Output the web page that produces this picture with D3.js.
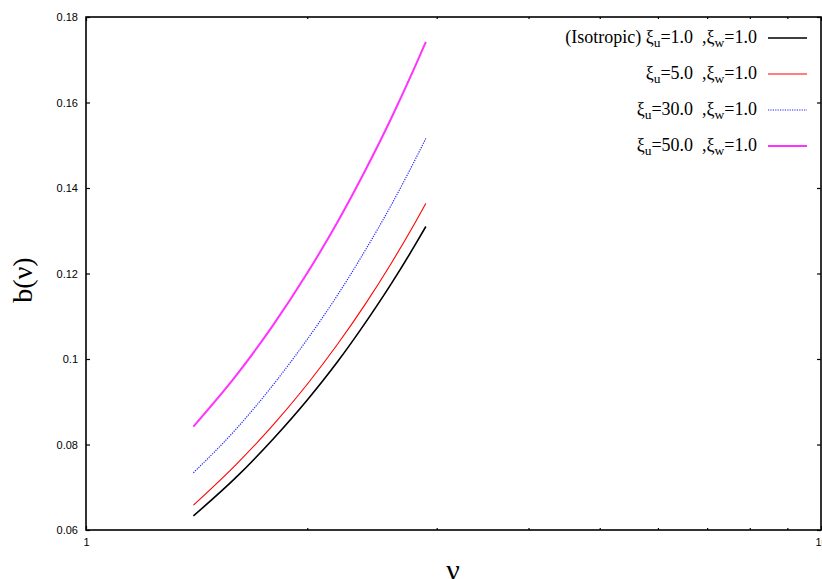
<!DOCTYPE html>
<html><head><meta charset="utf-8">
<script src="https://cdn.jsdelivr.net/npm/d3@7"></script>
<style>body{margin:0;background:#fff}svg{display:block}</style>
</head><body>
<script>
const nu = [1.4, 1.6, 1.8, 2.0, 2.2, 2.4, 2.6, 2.8, 2.9];
const bIso = [0.0633, 0.0723, 0.0814, 0.0904, 0.0994, 0.1085, 0.1175, 0.1265, 0.1310];
const bXi5 = [0.0658, 0.0753, 0.0847, 0.0941, 0.1035, 0.1129, 0.1223, 0.1317, 0.1364];
const bXi30 = [0.0734, 0.0836, 0.0941, 0.1046, 0.1150, 0.1255, 0.1359, 0.1464, 0.1516];
const bXi50 = [0.0842, 0.0961, 0.1081, 0.1201, 0.1321, 0.1442, 0.1562, 0.1682, 0.1742];
const yTicks = [0.06, 0.08, 0.1, 0.12, 0.14, 0.16, 0.18];
const yTickLabels = ["0.06", "0.08", "0.1", "0.12", "0.14", "0.16", "0.18"];
const xTicks = [1, 10];
const xTickLabels = ["1", "10"];
const xMinor = [2, 3, 4, 5, 6, 7, 8, 9];
const seriesPrefix = ["(Isotropic) ", "", "", ""];
const seriesXiU = ["1.0", "5.0", "30.0", "50.0"];
const seriesXiW = ["1.0", "1.0", "1.0", "1.0"];

const W = 822, H = 579;
const m = {l: 86, r: 821, t: 17, b: 530};
const svg = d3.select("body").append("svg").attr("width", W).attr("height", H);
const x = d3.scaleLog().domain([1, 10]).range([m.l, m.r]);
const y = d3.scaleLinear().domain([0.06, 0.18]).range([m.b, m.t]);

const styles = [
  {color: "#000000", width: 1.6, dash: null},
  {color: "#ff0000", width: 1.1, dash: null},
  {color: "#2222ff", width: 1.2, dash: "1.2,1.2"},
  {color: "#ff33ff", width: 2.0, dash: null}
];
const series = [bIso, bXi5, bXi30, bXi50];

const yAxL = d3.axisLeft(y).tickValues(yTicks).tickSizeInner(-4).tickSizeOuter(0)
  .tickFormat((d, i) => yTickLabels[i]).tickPadding(8);
const gl = svg.append("g").attr("transform", `translate(${m.l},0)`).call(yAxL);
const yAxR = d3.axisRight(y).tickValues(yTicks).tickSizeInner(-4).tickSizeOuter(0).tickFormat("");
const gr = svg.append("g").attr("transform", `translate(${m.r},0)`).call(yAxR);
const xAxB = d3.axisBottom(x).tickValues(xTicks).tickSizeInner(-4).tickSizeOuter(0)
  .tickFormat((d, i) => xTickLabels[i]).tickPadding(8);
const gb = svg.append("g").attr("transform", `translate(0,${m.b})`).call(xAxB);
const xAxBm = d3.axisBottom(x).tickValues(xMinor).tickSizeInner(-2).tickSizeOuter(0).tickFormat("");
const gbm = svg.append("g").attr("transform", `translate(0,${m.b})`).call(xAxBm);
const xAxT = d3.axisTop(x).tickValues(xTicks).tickSizeInner(-4).tickSizeOuter(0).tickFormat("");
const gt = svg.append("g").attr("transform", `translate(0,${m.t})`).call(xAxT);
const xAxTm = d3.axisTop(x).tickValues(xMinor).tickSizeInner(-2).tickSizeOuter(0).tickFormat("");
const gtm = svg.append("g").attr("transform", `translate(0,${m.t})`).call(xAxTm);
[gl, gr, gb, gbm, gt, gtm].forEach(a => {
  a.select(".domain").remove();
  a.selectAll("line").attr("stroke", "#000").attr("stroke-width", 1.2);
  a.selectAll("text").attr("font-family", "Liberation Sans, Arial, sans-serif")
   .attr("font-size", 11).attr("fill", "#000");
});

svg.append("rect").attr("x", m.l).attr("y", m.t).attr("width", m.r - m.l).attr("height", m.b - m.t)
  .attr("fill", "none").attr("stroke", "#000").attr("stroke-width", 1.6);

const line = d3.line().x((d, i) => x(nu[i])).y(d => y(d)).curve(d3.curveMonotoneX);
series.forEach((s, k) => {
  svg.append("path").datum(s).attr("d", line).attr("fill", "none")
    .attr("stroke", styles[k].color).attr("stroke-width", styles[k].width)
    .attr("stroke-dasharray", styles[k].dash);
});

const legY = [38, 74, 110, 146];
series.forEach((s, k) => {
  const t = svg.append("text").attr("x", 757).attr("y", legY[k] + 5).attr("text-anchor", "end")
    .attr("font-family", "Liberation Serif, Times New Roman, serif").attr("font-size", 18).attr("fill", "#000");
  t.append("tspan").text(seriesPrefix[k] + "ξ");
  t.append("tspan").attr("dy", 4).attr("font-size", 13.5).text("u");
  t.append("tspan").attr("dy", -4).text("=" + seriesXiU[k] + "\u00a0\u00a0,ξ");
  t.append("tspan").attr("dy", 4).attr("font-size", 13.5).text("w");
  t.append("tspan").attr("dy", -4).text("=" + seriesXiW[k]);
  svg.append("line").attr("x1", 768).attr("x2", 807).attr("y1", legY[k]).attr("y2", legY[k])
    .attr("stroke", styles[k].color).attr("stroke-width", styles[k].width)
    .attr("stroke-dasharray", styles[k].dash);
});

svg.append("text").attr("transform", "translate(32,280) rotate(-90)").attr("text-anchor", "middle")
  .attr("font-family", "Liberation Serif, Times New Roman, serif").attr("font-size", 28).text("b(ν)");
svg.append("text").attr("x", 453).attr("y", 580).attr("text-anchor", "middle")
  .attr("font-family", "Liberation Serif, Times New Roman, serif").attr("font-size", 30).text("ν");
</script>
</body></html>
